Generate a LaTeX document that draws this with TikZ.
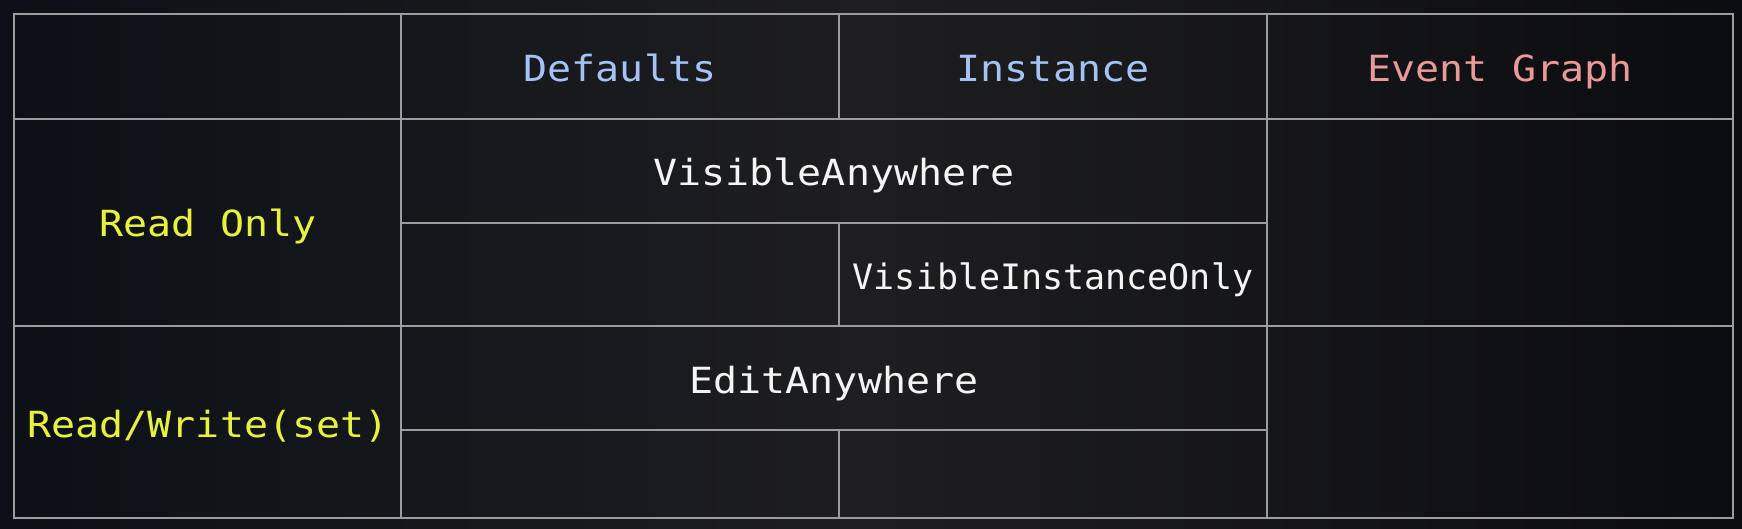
\documentclass[tikz,border=0pt]{standalone}
\usepackage{fontspec}
\newfontfamily\monowide[FakeStretch=1.11]{DejaVu Sans Mono}
\newfontfamily\mononarrow{DejaVu Sans Mono}
\definecolor{bgA}{HTML}{0C1016}
\definecolor{bgB}{HTML}{1E1E20}
\definecolor{bgC}{HTML}{0B0C10}
\definecolor{gridc}{HTML}{9C9C9C}
\definecolor{headblue}{HTML}{A4C2F4}
\definecolor{headred}{HTML}{EA9999}
\definecolor{rowyellow}{HTML}{E8F23C}
\definecolor{cellwhite}{HTML}{F4F4F4}
\tikzset{
  gridline/.style={draw=gridc, line width=1.5pt},
  lbl/.style={font=\monowide\fontsize{36}{40}\selectfont, anchor=base, inner sep=0pt},
  lblsmall/.style={font=\mononarrow\fontsize{35}{40}\selectfont, anchor=base, inner sep=0pt},
  head/.style={lbl, text=headblue},
  headev/.style={lbl, text=headred},
  rowhead/.style={lbl, text=rowyellow},
  entry/.style={lbl, text=cellwhite},
  entrysmall/.style={lblsmall, text=cellwhite}
}
\begin{document}
\begin{tikzpicture}[x=1pt,y=-1pt]
\useasboundingbox (0,0) rectangle (1742,529);
\shade[left color=bgA, right color=bgC, middle color=bgB] (0,0) rectangle (1742,529);
% grid coordinates
\coordinate (tl) at (14,14);
\coordinate (br) at (1733,518);
% outer border
\draw[gridline] (14,14) rectangle (1733,518);
% full-width row lines
\draw[gridline] (14,119) -- (1733,119);
\draw[gridline] (14,326) -- (1733,326);
% partial row lines
\draw[gridline] (401,223) -- (1267,223);
\draw[gridline] (401,430) -- (1267,430);
% column lines
\draw[gridline] (401,14) -- (401,518);
\draw[gridline] (1267,14) -- (1267,518);
\draw[gridline] (839,14) -- (839,119);
\draw[gridline] (839,223) -- (839,326);
\draw[gridline] (839,430) -- (839,518);
% header texts
\node[head] (defaults) at (620,82) {Defaults};
\node[head] (instance) at (1053,82) {Instance};
\node[headev] (event) at (1500,82) {Event Graph};
% row heads
\node[rowhead] (ro) at (208,237) {Read Only};
\node[rowhead] (rw) at (208,437) {Read/Write(set)};
% entries
\node[entry] (va) at (834,186) {VisibleAnywhere};
\node[entrysmall] (vio) at (1053,289) {VisibleInstanceOnly};
\node[entry] (ea) at (834,393) {EditAnywhere};
\end{tikzpicture}
\end{document}
